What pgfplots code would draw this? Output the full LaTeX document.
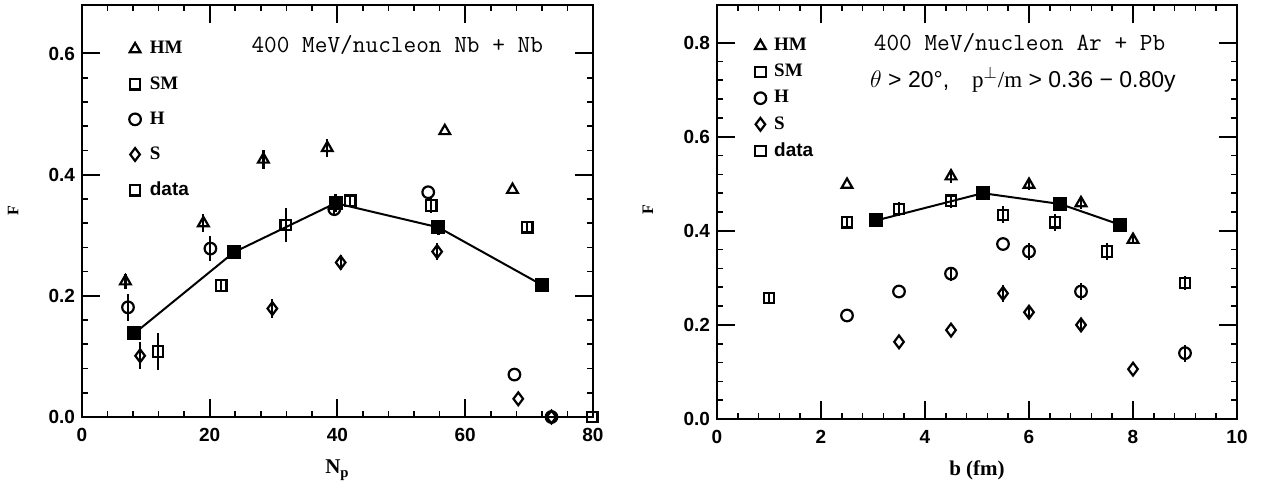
\documentclass[border=0pt]{standalone}
\usepackage{fontspec}
\setmainfont{Liberation Serif}
\setsansfont{Liberation Sans}
\usepackage{pgfplots}
\pgfplotsset{compat=1.18}
\usepackage{pgfplotstable}

% ---------- left panel (Nb + Nb) ----------
\pgfplotstableread{
x y e
6.8 0.224 0.012
19.0 0.320 0.015
28.4 0.425 0.015
38.4 0.444 0.015
56.8 0.472 0
67.4 0.375 0
}\LHM
\pgfplotstableread{
x y e
21.8 0.217 0.010
42.0 0.357 0.010
54.7 0.349 0.012
69.7 0.313 0.010
79.9 0.000 0
}\LSM
\pgfplotstableread{
x y e
11.9 0.108 0.020
31.9 0.317 0.018
}\LDATA
\pgfplotstableread{
x y e
7.2 0.181 0.022
20.1 0.278 0.020
39.5 0.343 0.010
54.2 0.371 0
67.7 0.070 0
73.5 0.000 0
}\LH
\pgfplotstableread{
x y e
9.1 0.101 0.022
29.8 0.179 0.016
40.5 0.255 0.012
55.6 0.273 0.014
68.3 0.030 0
73.5 0.000 0
}\LS
\pgfplotstableread{
x y e
8.2 0.138 0
23.8 0.272 0.010
39.7 0.353 0.015
55.8 0.313 0.012
72.0 0.218 0.010
}\LFIL

% ---------- right panel (Ar + Pb) ----------
\pgfplotstableread{
x y e
2.5 0.498 0
4.5 0.516 0.015
6.0 0.498 0.012
7.0 0.459 0.012
8.0 0.381 0.010
}\RHM
\pgfplotstableread{
x y e
1.0 0.257 0.010
2.5 0.418 0.010
3.5 0.446 0.015
4.5 0.464 0.015
5.5 0.434 0.018
6.5 0.418 0.018
7.5 0.356 0.018
9.0 0.289 0.015
}\RSM
\pgfplotstableread{
x y e
2.5 0.220 0
3.5 0.271 0
4.5 0.309 0.015
5.5 0.372 0
6.0 0.356 0.018
7.0 0.271 0.018
9.0 0.140 0.018
}\RH
\pgfplotstableread{
x y e
3.5 0.164 0
4.5 0.189 0
5.5 0.267 0.018
6.0 0.227 0.010
7.0 0.200 0.015
8.0 0.106 0
}\RS
\pgfplotstableread{
x y
3.06 0.422
5.11 0.480
6.60 0.457
7.75 0.413
}\RFIL

\pgfplotsset{
  panel/.style={
    scale only axis,
    axis line style={line width=1.2pt},
    tick align=inside,
    major tick length=9pt,
    minor tick length=3pt,
    major tick style={line width=1pt,black},
    minor tick style={line width=0.8pt,black},
    ticklabel style={font=\sffamily\bfseries\fontsize{9.5}{9.5}\selectfont},
    /pgf/number format/assume math mode=true,
    yticklabel style={/pgf/number format/.cd, fixed, fixed zerofill, precision=1},
    xticklabel style={yshift=-2pt},
    minor x tick num=4,
    minor y tick num=4,
    legend cell align=left,
    clip=false,
  },
  ebar/.style={
    error bars/y dir=both, error bars/y explicit,
    error bars/error bar style={line width=1.1pt},
    error bars/error mark=none},
  em/.style={only marks, mark options={solid, line width=1.1pt}, ebar},
  mHM/.style={mark=triangle, mark size=3.1pt},
  mSM/.style={mark=square, mark size=2.6pt},
  mH/.style={mark=o, mark size=2.9pt},
  mS/.style={mark=diamond, mark size=3.2pt},
}

\begin{document}
\begin{tikzpicture}
\path[use as bounding box] (0,0) rectangle (636pt,-245pt);

% ================= LEFT =================
\begin{axis}[panel,
  at={(41pt,-208.5pt)}, anchor=south west,
  width=255.5pt, height=206pt,
  xmin=0, xmax=80, ymin=0, ymax=0.68,
  xtick={0,20,40,60,80}, ytick={0,0.2,0.4,0.6},
  xlabel={\bfseries N\textsubscript{p}},
  xlabel style={font=\rmfamily\fontsize{10.5}{10}\selectfont, at={(axis description cs:0.5,-0.129)}, anchor=center},
  ylabel={\bfseries F},
  ylabel style={font=\rmfamily\fontsize{8}{8}\selectfont, at={(axis description cs:-0.135,0.5)}, anchor=center},
  legend style={draw=none, fill=none, at={(axis description cs:0.08,0.932)}, anchor=north west,
    font=\rmfamily\bfseries\fontsize{9.5}{9.5}\selectfont, row sep=5.8pt, column sep=2.5pt},
]
\addlegendimage{only marks, mHM, mark options={line width=1.1pt}}
\addlegendentry{HM}
\addlegendimage{only marks, mSM, mark options={line width=1.1pt}}
\addlegendentry{SM}
\addlegendimage{only marks, mH, mark options={line width=1.1pt}}
\addlegendentry{H}
\addlegendimage{only marks, mS, mark options={line width=1.1pt}}
\addlegendentry{S}
\addlegendimage{only marks, mSM, mark options={line width=1.1pt}}
\addlegendentry{\sffamily data}

\addplot[forget plot, black, line width=1pt, mark=square*, mark size=3pt, mark options={solid}, ebar]
  table[x=x,y=y,y error=e] {\LFIL};
\addplot[forget plot, black, em, mHM] table[x=x,y=y,y error=e] {\LHM};
\addplot[forget plot, black, em, mSM] table[x=x,y=y,y error=e] {\LSM};
\addplot[forget plot, black, only marks, mSM, mark options={solid, line width=1.1pt},
  error bars/y dir=both, error bars/y explicit, error bars/error bar style={line width=1.1pt},
  error bars/error mark=|, error bars/error mark options={line width=1.1pt, mark size=3pt, rotate=90}]
  table[x=x,y=y,y error=e] {\LDATA};
\addplot[forget plot, black, em, mH] table[x=x,y=y,y error=e] {\LH};
\addplot[forget plot, black, em, mS] table[x=x,y=y,y error=e] {\LS};

\node[anchor=west, font=\ttfamily\fontsize{12.3}{12}\selectfont] at (axis description cs:0.318,0.903) {400 MeV/nucleon Nb + Nb};
\end{axis}

% ================= RIGHT =================
\begin{axis}[panel,
  at={(358.5pt,-209.5pt)}, anchor=south west,
  width=260pt, height=207pt,
  xmin=0, xmax=10, ymin=0, ymax=0.88,
  xtick={0,2,4,6,8,10}, ytick={0,0.2,0.4,0.6,0.8},
  xlabel={\bfseries b (fm)},
  xlabel style={font=\rmfamily\fontsize{10.5}{10}\selectfont, at={(axis description cs:0.5,-0.123)}, anchor=center},
  ylabel={\bfseries F},
  ylabel style={font=\rmfamily\fontsize{8}{8}\selectfont, at={(axis description cs:-0.133,0.505)}, anchor=center},
  legend style={draw=none, fill=none, at={(axis description cs:0.06,0.94)}, anchor=north west,
    font=\rmfamily\bfseries\fontsize{9.5}{9.5}\selectfont, row sep=1.3pt, column sep=2pt},
]
\addlegendimage{only marks, mHM, mark options={line width=1.1pt}}
\addlegendentry{HM}
\addlegendimage{only marks, mSM, mark options={line width=1.1pt}}
\addlegendentry{SM}
\addlegendimage{only marks, mH, mark options={line width=1.1pt}}
\addlegendentry{H}
\addlegendimage{only marks, mS, mark options={line width=1.1pt}}
\addlegendentry{S}
\addlegendimage{only marks, mSM, mark options={line width=1.1pt}}
\addlegendentry{\sffamily data}

\addplot[forget plot, black, line width=1pt, mark=square*, mark size=3pt, mark options={solid}]
  table[x=x,y=y] {\RFIL};
\addplot[forget plot, black, em, mHM] table[x=x,y=y,y error=e] {\RHM};
\addplot[forget plot, black, em, mSM] table[x=x,y=y,y error=e] {\RSM};
\addplot[forget plot, black, em, mH] table[x=x,y=y,y error=e] {\RH};
\addplot[forget plot, black, em, mS] table[x=x,y=y,y error=e] {\RS};

\node[anchor=west, font=\ttfamily\fontsize{12.3}{12}\selectfont] at (axis description cs:0.288,0.908) {400 MeV/nucleon Ar + Pb};
\node[anchor=west, font=\sffamily\fontsize{11.5}{11}\selectfont] at (axis description cs:0.281,0.819) {$\theta$ > 20°,\quad{\rmfamily p}$^{\perp}${\rmfamily /m} > 0.36 − 0.80y};
\end{axis}
\end{tikzpicture}
\end{document}
